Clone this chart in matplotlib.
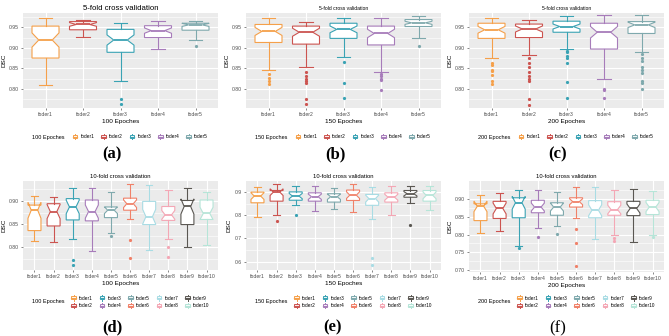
import numpy as np
import matplotlib.pyplot as plt
from matplotlib.legend_handler import HandlerBase
from matplotlib.lines import Line2D
from matplotlib.patches import Rectangle

plt.rcParams['font.family'] = ['Liberation Sans', 'DejaVu Sans']

W, H = 669, 336

names5 = ['foder1', 'foder2', 'foder3', 'foder4', 'foder5']
names10 = ['foder1', 'foder2', 'foder3', 'foder4', 'foder5',
           'foder6', 'foder7', 'foder8', 'foder9', 'foder10']
colors5 = ['#F5A04A', '#CC5450', '#3AA3B4', '#A77CBA', '#7FA9AD']
colors10 = ['#F5A04A', '#CC5450', '#3AA3B4', '#A77CBA', '#7FA9AD',
            '#F08169', '#A9DCE4', '#F4A7B5', '#5A5752', '#B6E5D8']

# (a) 5-fold, 100 epoches
a_hi = [0.972, 0.968, 0.960, 0.965, 0.966]
a_q3 = [0.953, 0.964, 0.945, 0.954, 0.960]
a_med = [0.919, 0.957, 0.919, 0.942, 0.956]
a_q1 = [0.875, 0.944, 0.889, 0.925, 0.943]
a_lo = [0.810, 0.927, 0.820, 0.897, 0.919]
a_out = [[], [], [0.776, 0.762], [], [0.905]]

# (b) 5-fold, 150 epoches
b_hi = [0.972, 0.962, 0.972, 0.972, 0.977]
b_q3 = [0.957, 0.953, 0.960, 0.953, 0.969]
b_med = [0.940, 0.938, 0.945, 0.935, 0.961]
b_q1 = [0.913, 0.909, 0.923, 0.907, 0.952]
b_lo = [0.845, 0.852, 0.877, 0.842, 0.923]
b_out = [[0.837, 0.827, 0.820, 0.812],
         [0.842, 0.832, 0.824, 0.820, 0.815, 0.776, 0.762],
         [0.865, 0.815, 0.778],
         [0.837, 0.832, 0.825, 0.821, 0.797],
         [0.905]]

# (c) 5-fold, 200 epoches
c_hi = [0.973, 0.969, 0.977, 0.980, 0.980]
c_q3 = [0.960, 0.958, 0.965, 0.960, 0.964]
c_med = [0.944, 0.946, 0.952, 0.938, 0.956]
c_q1 = [0.923, 0.925, 0.938, 0.897, 0.935]
c_lo = [0.874, 0.882, 0.897, 0.823, 0.890]
c_out = [[0.864, 0.859, 0.846, 0.843, 0.834, 0.820, 0.811],
         [0.876, 0.864, 0.853, 0.841, 0.831, 0.823, 0.820, 0.775, 0.761],
         [0.893, 0.889, 0.880, 0.876, 0.864, 0.816, 0.778],
         [0.800, 0.797, 0.778],
         [0.884, 0.874, 0.868, 0.852, 0.846, 0.838, 0.819, 0.815, 0.800]]

# (d) 10-fold, 100 epoches
d_hi = [0.911, 0.909, 0.928, 0.928, 0.920, 0.936, 0.935, 0.923, 0.928, 0.920]
d_q3 = [0.891, 0.894, 0.905, 0.902, 0.887, 0.906, 0.899, 0.888, 0.901, 0.902]
d_med = [0.880, 0.877, 0.887, 0.877, 0.880, 0.894, 0.866, 0.870, 0.888, 0.873]
d_q1 = [0.836, 0.846, 0.859, 0.857, 0.864, 0.880, 0.849, 0.858, 0.849, 0.860]
d_lo = [0.813, 0.812, 0.818, 0.793, 0.830, 0.862, 0.795, 0.818, 0.800, 0.804]
d_out = [[], [], [0.773, 0.761], [], [0.824], [0.815, 0.777], [],
         [0.800, 0.778], [], []]

# (e) 10-fold, 150 epoches
e_hi = [0.923, 0.936, 0.926, 0.926, 0.916, 0.933, 0.922, 0.926, 0.926, 0.926]
e_q3 = [0.900, 0.907, 0.901, 0.897, 0.893, 0.909, 0.890, 0.897, 0.907, 0.907]
e_med = [0.883, 0.900, 0.883, 0.880, 0.880, 0.887, 0.872, 0.878, 0.893, 0.886]
e_q1 = [0.854, 0.861, 0.865, 0.861, 0.857, 0.864, 0.843, 0.857, 0.878, 0.861]
e_lo = [0.793, 0.801, 0.846, 0.817, 0.829, 0.813, 0.786, 0.800, 0.854, 0.825]
e_out = [[], [0.777], [0.800], [], [], [], [0.615, 0.586], [], [0.759], []]

# (f) 10-fold, 200 epoches
f_hi = [0.910, 0.915, 0.926, 0.926, 0.920, 0.934, 0.933, 0.924, 0.928, 0.922]
f_q3 = [0.886, 0.893, 0.903, 0.896, 0.889, 0.903, 0.895, 0.892, 0.893, 0.896]
f_med = [0.879, 0.873, 0.889, 0.877, 0.877, 0.892, 0.868, 0.870, 0.873, 0.877]
f_q1 = [0.839, 0.845, 0.847, 0.861, 0.854, 0.877, 0.847, 0.854, 0.853, 0.856]
f_lo = [0.804, 0.811, 0.767, 0.818, 0.823, 0.847, 0.787, 0.800, 0.780, 0.800]
f_out = [[], [], [0.762], [0.793], [0.802], [0.816, 0.776, 0.711], [],
         [0.790, 0.781], [], [0.793]]


class BoxHandler(HandlerBase):
    def create_artists(self, legend, orig_handle, xdescent, ydescent,
                       width, height, fontsize, trans):
        c = orig_handle.get_color()
        x0, y0 = -xdescent, -ydescent - height * 0.15
        hh = height * 1.3
        bw = width * 0.7
        bx = x0 + (width - bw) / 2
        cx = x0 + width / 2
        box = Rectangle((bx, y0 + hh * 0.2), bw, hh * 0.6, fc='white', ec=c,
                        lw=0.7, transform=trans)
        med = Line2D([bx, bx + bw], [y0 + hh * 0.5] * 2, color=c, lw=0.9,
                     transform=trans)
        w1 = Line2D([cx, cx], [y0, y0 + hh * 0.2], color=c, lw=0.7, transform=trans)
        w2 = Line2D([cx, cx], [y0 + hh * 0.8, y0 + hh], color=c, lw=0.7, transform=trans)
        return [box, w1, w2, med]


def rect(l, r, t, b):
    return [l / W, 1 - b / H, (r - l) / W, (b - t) / H]


def panel(fig, pos, names, colors, hi, q3, med, q1, lo, out, n, ylim, yticks,
          minor, title, tsize, epo, letter, lx, ly, bold=True, ox=0):
    ax = fig.add_axes(rect(*pos))
    ax.set_facecolor('#EBEBEB')
    for s in ax.spines.values():
        s.set_visible(False)
    k = len(names)
    xs = np.arange(1, k + 1)
    ax.set_xlim(0.4, k + 0.6)
    ax.set_ylim(*ylim)
    for y in minor:
        ax.axhline(y, color='white', lw=0.4, zorder=0)
    for y in yticks:
        ax.axhline(y, color='white', lw=0.8, zorder=0)
    for x in xs:
        ax.axvline(x, color='white', lw=0.8, zorder=0)
    bw = 0.72 if k == 5 else 0.68
    for i in range(k):
        c = colors[i]
        half = 1.58 * (q3[i] - q1[i]) / np.sqrt(n)
        st = dict(med=med[i], q1=q1[i], q3=q3[i], whislo=lo[i],
                  whishi=hi[i], fliers=out[i],
                  cilo=med[i] - half, cihi=med[i] + half)
        ax.bxp([st], positions=[xs[i]], widths=bw, shownotches=True,
               patch_artist=True, capwidths=bw * 0.5,
               boxprops=dict(facecolor='white', edgecolor=c, lw=0.8),
               whiskerprops=dict(color=c, lw=0.8),
               capprops=dict(color=c, lw=0.8),
               medianprops=dict(color=c, lw=1.3),
               flierprops=dict(marker='o', markersize=1.3, markerfacecolor=c,
                               markeredgecolor=c))
    ax.set_xticks(xs)
    ax.set_xticklabels(names)
    ax.set_yticks(yticks)
    ax.set_yticklabels([f'{v:.2f}' if ylim[1] - ylim[0] < 0.3 else f'{v:.1f}'
                        for v in yticks])
    ax.tick_params(labelsize=3.7, colors='#555555', length=1.5, width=0.5,
                   pad=1.5, labelcolor='#4D4D4D')
    ax.set_title(title, fontsize=tsize, pad=2.5)
    ax.set_xlabel(epo, fontsize=4.6, labelpad=1.5)
    ax.set_ylabel('DSC', fontsize=4.6, labelpad=2)

    handles = [Line2D([], [], color=c) for c in colors]
    lcy = 137 if k == 5 else 302
    fig.legend(handles, names, handler_map={Line2D: BoxHandler()},
               loc='center', bbox_to_anchor=((140 + ox) / W, 1 - lcy / H),
               ncol=5, frameon=False, fontsize=3.4, handlelength=1.4,
               handleheight=0.9, handletextpad=0.5, columnspacing=1.2,
               labelspacing=0.6, borderpad=0)
    fig.text((64 + ox) / W, 1 - lcy / H, epo, ha='right', va='center', fontsize=4)
    fig.text(lx / W, 1 - ly / H, letter, ha='center', va='center',
             fontsize=12, family='Liberation Serif',
             fontweight='bold' if bold else 'normal')
    return ax


fig = plt.figure(figsize=(W / 100, H / 100), dpi=100)

t5 = [0.80, 0.85, 0.90, 0.95]
m5 = [0.775, 0.825, 0.875, 0.925, 0.975]
panel(fig, (23, 218, 13, 108), names5, colors5, a_hi, a_q3, a_med, a_q1, a_lo,
      a_out, 50, (0.753, 0.985), t5, m5, '5-fold cross validation', 5.6,
      '100 Epoches', '(a)', 112, 154)
panel(fig, (246, 441, 13, 108), names5, colors5, b_hi, b_q3, b_med, b_q1, b_lo,
      b_out, 50, (0.753, 0.985), t5, m5, '5-fold cross validation', 3.6,
      '150 Epoches', '(b)', 335, 154, ox=223)
panel(fig, (469, 664, 13, 108), names5, colors5, c_hi, c_q3, c_med, c_q1, c_lo,
      c_out, 50, (0.753, 0.985), t5, m5, '5-fold cross validation', 3.6,
      '200 Epoches', '(c)', 558, 154, ox=446)

panel(fig, (23, 218, 181, 270), names10, colors10, d_hi, d_q3, d_med, d_q1,
      d_lo, d_out, 25, (0.751, 0.943), [0.80, 0.85, 0.90],
      [0.775, 0.825, 0.875, 0.925], '10-fold cross validation', 4.2,
      '100 Epoches', '(d)', 112, 327)
panel(fig, (246, 441, 181, 270), names10, colors10, e_hi, e_q3, e_med, e_q1,
      e_lo, e_out, 25, (0.564, 0.948), [0.6, 0.7, 0.8, 0.9],
      [0.65, 0.75, 0.85], '10-fold cross validation', 4.2,
      '150 Epoches', '(e)', 333, 327, ox=223)
panel(fig, (469, 664, 181, 272), names10, colors10, f_hi, f_q3, f_med, f_q1,
      f_lo, f_out, 25, (0.695, 0.950), [0.70, 0.75, 0.80, 0.85, 0.90],
      [0.725, 0.775, 0.825, 0.875, 0.925], '10-fold cross validation', 4.2,
      '200 Epoches', '(f)', 558, 328, bold=False, ox=446)

fig.savefig('out.png', dpi=100)
